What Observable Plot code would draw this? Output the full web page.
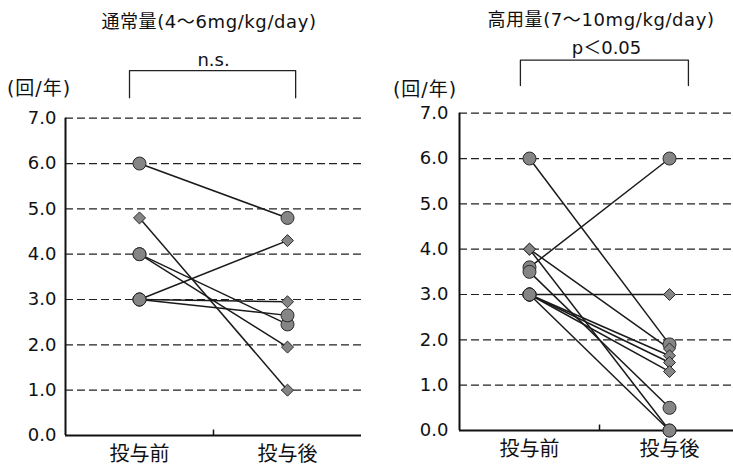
<!DOCTYPE html>
<html><head><meta charset="utf-8">
<script src="https://cdn.jsdelivr.net/npm/d3@7"></script>
<script src="https://cdn.jsdelivr.net/npm/@observablehq/plot@0.6"></script>
<style>
body{margin:0;background:#fff;}
#wrap{position:relative;width:733px;height:467px;overflow:hidden;font-family:"DejaVu Sans","Noto Sans CJK JP",sans-serif;color:#111;}
.panel{position:absolute;top:0;}
.lbl{position:absolute;white-space:nowrap;line-height:1;transform:translate(-50%,-50%);}
</style></head><body><div id="wrap"></div>
<script>
// ---- data ----
const yTicks = [0, 1, 2, 3, 4, 5, 6, 7];
const gridValues = [1, 2, 3, 4, 5, 6, 7];
const xPositions = [1, 3];
const xLabels = ["投与前", "投与後"];
const titles = ["通常量(4～6mg/kg/day)", "高用量(7～10mg/kg/day)"];
const statLabels = ["n.s.", "p＜0.05"];
const unitLabel = "(回/年)";

// 通常量 (normal dose)
const normPre       = [6.0, 4.8, 4.0, 4.0, 3.0, 3.0, 3.0];
const normPost      = [4.8, 1.0, 1.95, 2.45, 4.3, 2.95, 2.65];
const normPreShape  = ["circle", "diamond", "circle", "circle", "circle", "circle", "circle"];
const normPostShape = ["circle", "diamond", "diamond", "circle", "diamond", "diamond", "circle"];

// 高用量 (high dose)
const highPre       = [6.0, 3.6, 3.0, 4.0, 4.0, 3.5, 3.0, 3.0, 3.0, 3.0];
const highPost      = [1.9, 6.0, 3.0, 1.8, 0.0, 0.5, 1.65, 1.5, 1.3, 0.0];
const highPreShape  = ["circle", "circle", "circle", "diamond", "diamond", "circle", "circle", "circle", "circle", "circle"];
const highPostShape = ["circle", "circle", "diamond", "diamond", "circle", "circle", "diamond", "diamond", "diamond", "circle"];

// bracket annotations (data units)
const normBracketX = [0.865, 3.11];
const normBracketY = [7.45, 8.05];
const highBracketX = [0.87, 3.27];
const highBracketY = [7.61, 8.17];

// ---- build ----
const font = '"DejaVu Sans","Noto Sans CJK JP",sans-serif';

function makePanel(pre, post, preShape, postShape, o) {
  const rows = pre.map((p, i) => ({pre: p, post: post[i]}));
  const pts = [];
  pre.forEach((p, i) => {
    pts.push({x: xPositions[0], y: p, shape: preShape[i]});
    pts.push({x: xPositions[1], y: post[i], shape: postShape[i]});
  });
  const bracket = [
    {x: o.bx[0], y: o.by[0]}, {x: o.bx[0], y: o.by[1]},
    {x: o.bx[1], y: o.by[1]}, {x: o.bx[1], y: o.by[0]}
  ];
  const fill = "#858585", stroke = "#2a2a2a";
  return Plot.plot({
    width: o.width, height: 467,
    marginLeft: o.ml, marginRight: o.mr, marginTop: o.mt, marginBottom: o.mb,
    x: {domain: [0, o.xMax], axis: null},
    y: {domain: [0, 7], axis: null},
    style: {fontFamily: font, fontSize: "18px", overflow: "visible", background: "transparent", color: "#111"},
    marks: [
      Plot.ruleY(gridValues, {stroke: "#222", strokeDasharray: "8,4", strokeWidth: 1.2}),
      Plot.axisY({ticks: yTicks, tickFormat: d => d.toFixed(1), tickSize: 0, tickPadding: o.ytp, fontSize: 18, label: null}),
      Plot.axisX({ticks: xPositions, tickFormat: d => xLabels[xPositions.indexOf(d)], tickSize: 0, tickPadding: 11, fontSize: 20, label: null}),
      Plot.ruleX([0], {y1: 0, y2: 7, stroke: "#111", strokeWidth: 2}),
      Plot.ruleY([0], {stroke: "#111", strokeWidth: 2}),
      Plot.ruleX([2], {y1: 0, y2: 0.12, stroke: "#111", strokeWidth: 1.5}),
      Plot.link(rows, {x1: () => xPositions[0], y1: "pre", x2: () => xPositions[1], y2: "post", stroke: "#1a1a1a", strokeWidth: 1.5}),
      Plot.dot(pts.filter(d => d.shape === "circle"), {x: "x", y: "y", r: 6.5, fill, stroke, strokeWidth: 1}),
      Plot.dot(pts.filter(d => d.shape === "diamond"), {x: "x", y: "y", symbol: "diamond2", r: 5.4, fill, stroke, strokeWidth: 1}),
      Plot.line(bracket, {x: "x", y: "y", stroke: "#222", strokeWidth: 1.3}),
      Plot.text([o.stat], {x: () => o.sx, y: () => o.sy, text: d => d, fontSize: 18, fill: "#111"})
    ]
  });
}

const wrap = document.getElementById("wrap");

const left = document.createElement("div");
left.className = "panel"; left.style.left = "0px";
left.appendChild(makePanel(normPre, normPost, normPreShape, normPostShape, {
  width: 366, ml: 65, mr: 5, mt: 117.7, mb: 32, xMax: 4, ytp: 9,
  bx: normBracketX, by: normBracketY, stat: statLabels[0], sx: 2, sy: 8.27
}));
wrap.appendChild(left);

const right = document.createElement("div");
right.className = "panel"; right.style.left = "366px";
right.appendChild(makePanel(highPre, highPost, highPreShape, highPostShape, {
  width: 367, ml: 93, mr: 0, mt: 112.7, mb: 37, xMax: 3.914, ytp: 11,
  bx: highBracketX, by: highBracketY, stat: statLabels[1], sx: 2.1, sy: 8.44
}));
wrap.appendChild(right);

function label(text, cx, cy, size, ls) {
  const d = document.createElement("div");
  d.className = "lbl";
  d.textContent = text;
  d.style.left = cx + "px"; d.style.top = cy + "px";
  d.style.fontSize = size + "px";
  d.style.letterSpacing = ls + "px";
  wrap.appendChild(d);
}
label(titles[0], 209, 22, 18, 0.6);
label(titles[1], 601, 20, 18, 0.6);
label(unitLabel, 39, 88, 19, 1);
label(unitLabel, 425, 89, 19, 1);
</script>
</body></html>
